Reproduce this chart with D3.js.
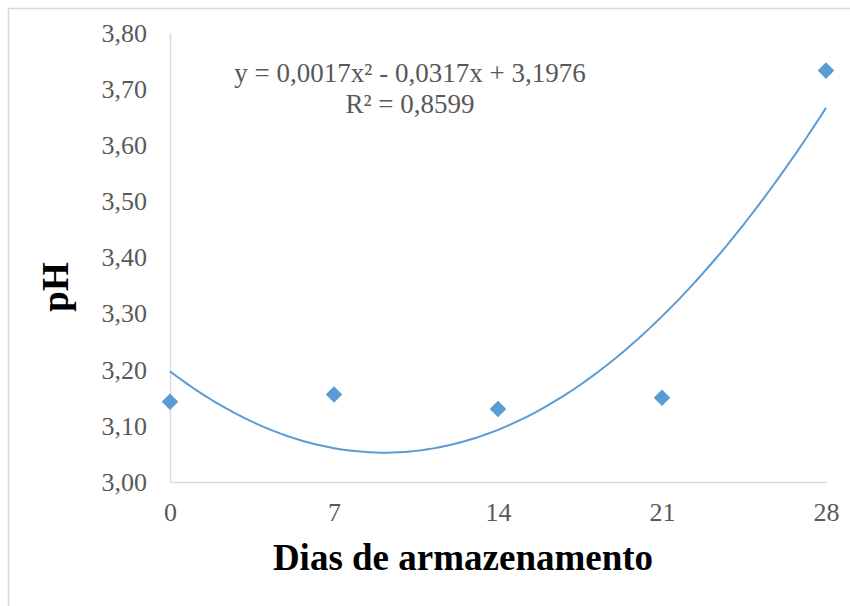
<!DOCTYPE html>
<html>
<head>
<meta charset="utf-8">
<script src="https://cdn.jsdelivr.net/npm/d3@7"></script>
<style>
  html, body { margin: 0; padding: 0; background: #fff; }
  svg { display: block; }
</style>
</head>
<body>
<svg id="chart" width="850" height="606"></svg>
<script>
// Storage days and measured pH
const days = [0, 7, 14, 21, 28];
const phValues = [3.143, 3.156, 3.130, 3.150, 3.733];

// Axis ticks
const xTicks = [0, 7, 14, 21, 28];
const yTicks = [3.00, 3.10, 3.20, 3.30, 3.40, 3.50, 3.60, 3.70, 3.80];

// Trendline label text
const equationLines = ["y = 0,0017x² - 0,0317x + 3,1976", "R² = 0,8599"];

const W = 850, H = 606;
const margin = { left: 170, right: 24, top: 33, bottom: 124 };
const svg = d3.select("#chart");

// Chart-area frame (only the top and left edges fall inside the view)
svg.append("path")
  .attr("d", `M8.5,${H} V8.5 H${W}`)
  .attr("fill", "none")
  .attr("stroke", "#d9d9d9")
  .attr("stroke-width", 1.5);

const x = d3.scaleLinear().domain([0, 28]).range([margin.left, W - margin.right]);
const y = d3.scaleLinear().domain([3.0, 3.8]).range([H - margin.bottom, margin.top]);

const locale = d3.formatLocale({ decimal: ",", thousands: ".", grouping: [3], currency: ["", ""] });
const fmtY = locale.format(".2f");

// Y axis
const yAxis = svg.append("g")
  .attr("transform", `translate(${x(0)},0)`)
  .call(d3.axisLeft(y).tickValues(yTicks).tickFormat(fmtY).tickSize(0).tickPadding(23));
// X axis
const xAxis = svg.append("g")
  .attr("transform", `translate(0,${y(3.0)})`)
  .call(d3.axisBottom(x).tickValues(xTicks).tickFormat(d => String(d)).tickSize(0).tickPadding(21));

[yAxis, xAxis].forEach(g => {
  g.select(".domain").attr("stroke", "#d9d9d9").attr("stroke-width", 1.5);
  g.selectAll("text")
    .attr("fill", "#595959")
    .style("font-family", "'Liberation Serif', 'Times New Roman', serif")
    .style("font-size", "26px");
});

// Least-squares quadratic fit of pH against days
function quadFit(xs, ys) {
  const n = xs.length;
  let s = [0, 0, 0, 0, 0], t = [0, 0, 0];
  for (let i = 0; i < n; i++) {
    for (let k = 0; k <= 4; k++) s[k] += Math.pow(xs[i], k);
    for (let k = 0; k <= 2; k++) t[k] += ys[i] * Math.pow(xs[i], k);
  }
  // Solve the 3x3 normal equations by Cramer's rule
  const M = [[s[0], s[1], s[2]], [s[1], s[2], s[3]], [s[2], s[3], s[4]]];
  const det = m => m[0][0] * (m[1][1] * m[2][2] - m[1][2] * m[2][1])
                 - m[0][1] * (m[1][0] * m[2][2] - m[1][2] * m[2][0])
                 + m[0][2] * (m[1][0] * m[2][1] - m[1][1] * m[2][0]);
  const D = det(M);
  const coef = [0, 1, 2].map(c => det(M.map((row, r) => row.map((v, j) => j === c ? t[r] : v))) / D);
  return xv => coef[0] + coef[1] * xv + coef[2] * xv * xv;
}
const trend = quadFit(days, phValues);

const trendPts = d3.range(0, 28.001, 0.25).map(d => [d, trend(d)]);
svg.append("path")
  .datum(trendPts)
  .attr("fill", "none")
  .attr("stroke", "#5b9bd5")
  .attr("stroke-width", 2)
  .attr("d", d3.line().x(d => x(d[0])).y(d => y(d[1])));

// Data markers (diamonds)
svg.append("g")
  .selectAll("path")
  .data(days.map((d, i) => [d, phValues[i]]))
  .join("path")
  .attr("transform", d => `translate(${x(d[0])},${y(d[1])})`)
  .attr("d", d3.symbol().type(d3.symbolDiamond2).size(175))
  .attr("fill", "#5b9bd5");

// Trendline equation
const eq = svg.append("text")
  .attr("text-anchor", "middle")
  .attr("fill", "#595959")
  .style("font-family", "'Liberation Serif', 'Times New Roman', serif")
  .style("font-size", "27px");
equationLines.forEach((line, i) => {
  eq.append("tspan").attr("x", 410).attr("y", 82 + i * 31).text(line);
});

// Axis titles
svg.append("text")
  .attr("x", 463).attr("y", 570)
  .attr("text-anchor", "middle")
  .attr("fill", "#000")
  .style("font-family", "'Liberation Serif', 'Times New Roman', serif")
  .style("font-weight", "bold")
  .style("font-size", "37px")
  .text("Dias de armazenamento");

svg.append("text")
  .attr("transform", "translate(68,287) rotate(-90)")
  .attr("text-anchor", "middle")
  .attr("fill", "#000")
  .style("font-family", "'Liberation Serif', 'Times New Roman', serif")
  .style("font-weight", "bold")
  .style("font-size", "37px")
  .text("pH");
</script>
</body>
</html>
